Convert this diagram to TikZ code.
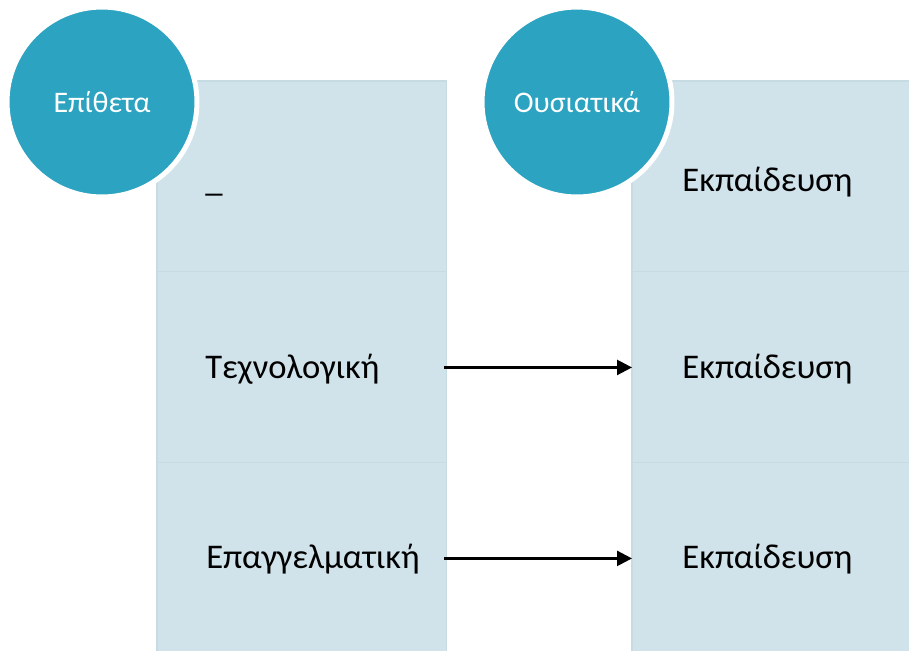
\documentclass[tikz,border=0pt]{standalone}
\usepackage{fontspec}
\setmainfont{Carlito}
\usetikzlibrary{arrows.meta,positioning}
\definecolor{kyano}{HTML}{2CA3C0}
\definecolor{anoixto}{HTML}{D0E2EA}
\definecolor{grammi}{HTML}{C7DBE3}

\begin{document}
\begin{tikzpicture}[x=0.02cm,y=-0.02cm,
    kouti/.style={fill=anoixto,draw=grammi,line width=0.6pt,
                  minimum width=5.8cm,minimum height=3.82cm,
                  inner sep=0pt,outer sep=0pt},
    kyklos/.style={circle,fill=kyano,draw=white,line width=0.1cm,
                   minimum size=3.8cm,inner sep=0pt,
                   font=\fontsize{17}{20}\selectfont\color{white}},
    keimeno/.style={anchor=base west,inner sep=0pt,
                    font=\fontsize{19.7}{23}\selectfont},
    >={Triangle[length=0.3cm,width=0.3cm]}]
  \clip (0,0) rectangle (909,650);
  % stiles
  \node[kouti,anchor=north west] (a1) at (157,81) {};
  \node[kouti,below=0pt of a1] (a2) {};
  \node[kouti,below=0pt of a2] (a3) {};
  \node[kouti,anchor=north west] (o1) at (632,81) {};
  \node[kouti,below=0pt of o1] (o2) {};
  \node[kouti,below=0pt of o2] (o3) {};

  \node[kyklos] (epitheta) at (102,102) {Επίθετα};
  \node[kyklos] (ousiastika) at (577,102) {Ουσιατικά};

  \node[keimeno] (ta1) at (205,191) {\_};
  \node[keimeno] (ta2) at (205,378) {Τεχνολογική};
  \node[keimeno] (ta3) at (206,568) {Επαγγελματική};
  \node[keimeno] (to1) at (682,191) {Εκπαίδευση};
  \node[keimeno] (to2) at (682,378) {Εκπαίδευση};
  \node[keimeno] (to3) at (682,568) {Εκπαίδευση};

  \draw[->,line width=0.05cm,shorten <=-0.06cm] (a2.east) -- (o2.west);
  \draw[->,line width=0.05cm,shorten <=-0.06cm] (a3.east) -- (o3.west);
\end{tikzpicture}
\end{document}
